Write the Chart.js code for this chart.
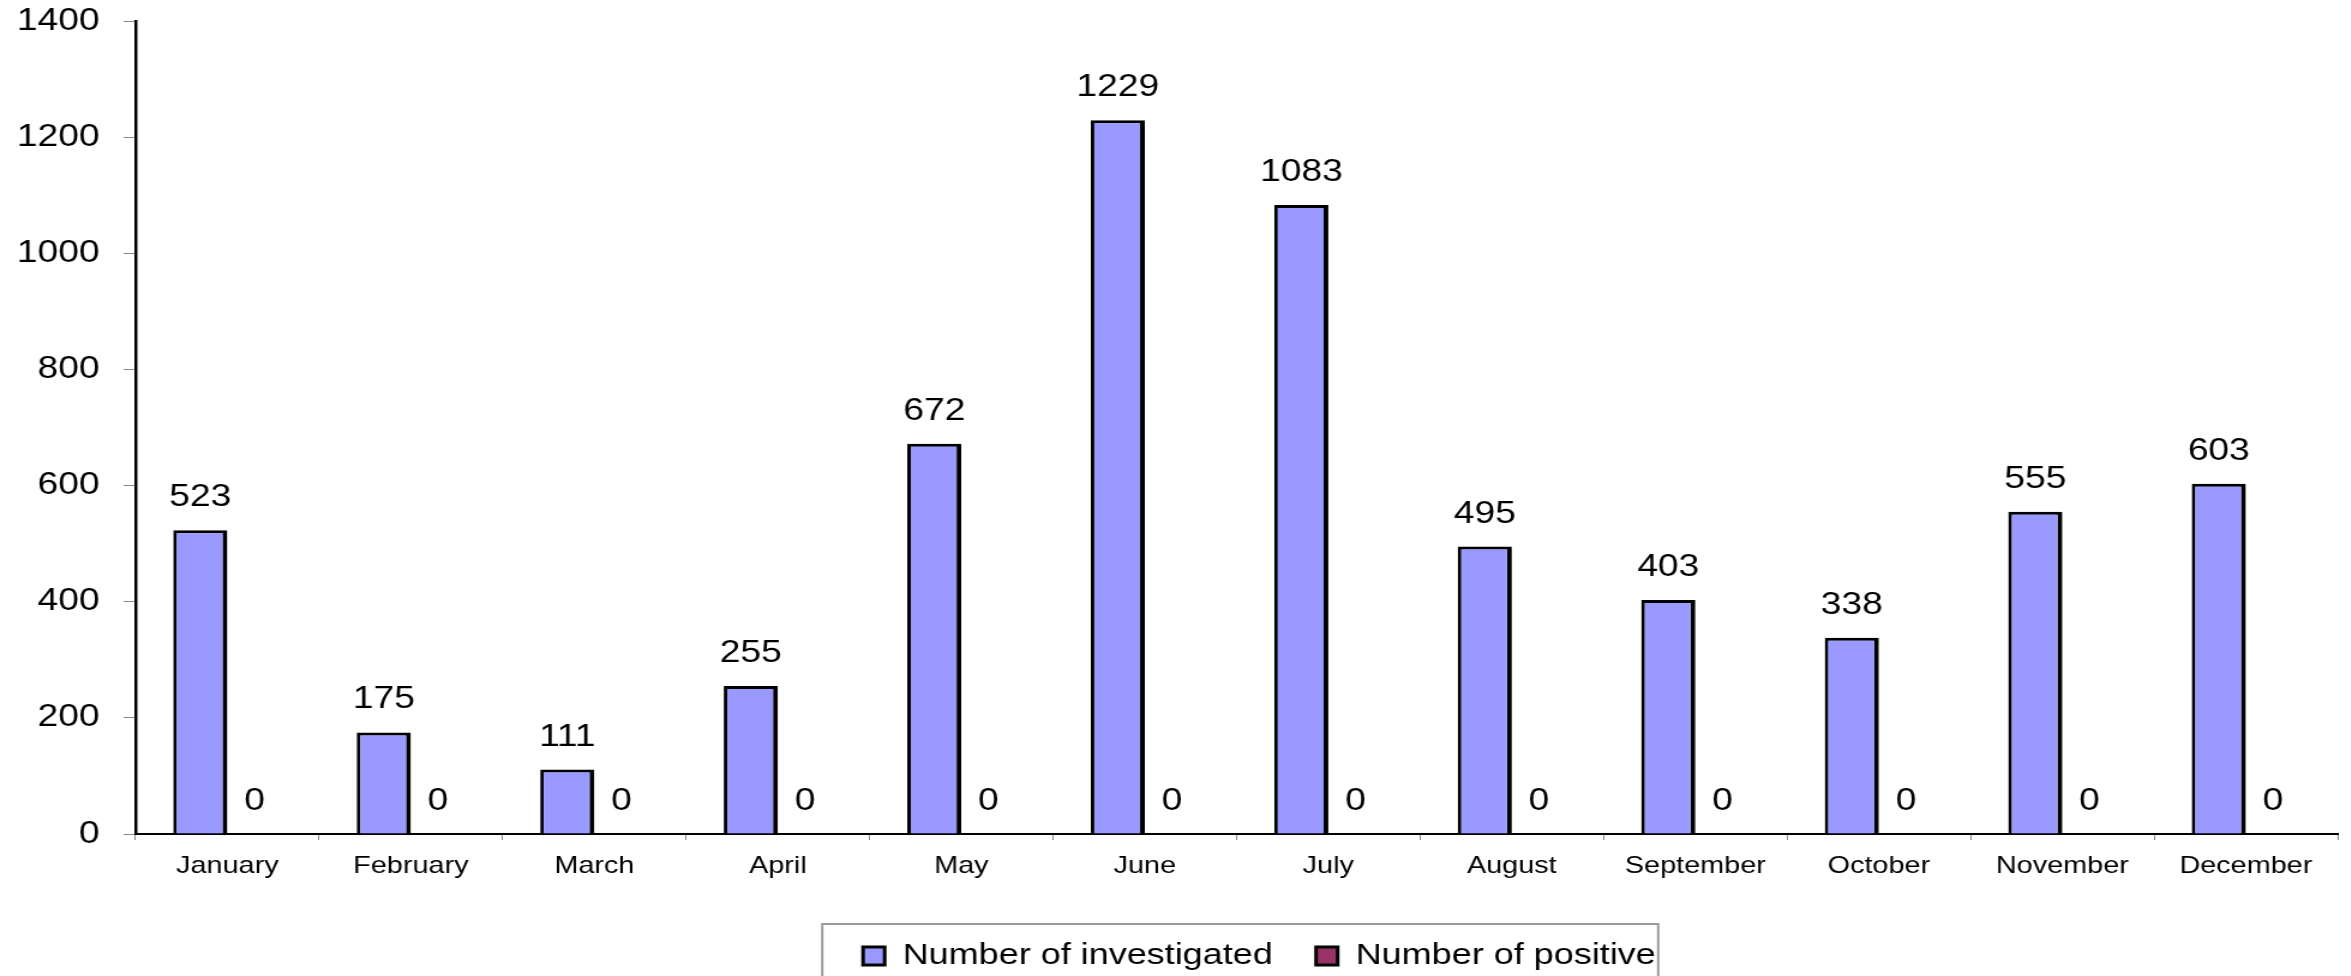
<!DOCTYPE html>
<html>
<head>
<meta charset="utf-8">
<script src="https://cdn.jsdelivr.net/npm/chart.js@4.4.0/dist/chart.umd.min.js"></script>
<style>
  html, body { margin: 0; padding: 0; background: #fff; overflow: hidden; }
  /* the reference text is wide, so the whole drawing is stretched a little sideways */
  #wrap { width: 1959px; height: 976px; transform: scaleX(1.2); transform-origin: 0 0; }
</style>
</head>
<body>
<div id="wrap"><canvas id="myChart"></canvas></div>
<script>
'use strict'

const months = ['January', 'February', 'March', 'April', 'May', 'June',
  'July', 'August', 'September', 'October', 'November', 'December'];
const investigated = [523, 175, 111, 255, 672, 1229, 1083, 495, 403, 338, 555, 603];
const positive = [0, 0, 0, 0, 0, 0, 0, 0, 0, 0, 0, 0];
const yTicks = [0, 200, 400, 600, 800, 1000, 1200, 1400];

const fontFamily = '"Liberation Sans", Arial, sans-serif';

// numbers written above every bar
const valueLabels = {
  id: 'valueLabels',
  afterDatasetsDraw(chart) {
    let ctx = chart.ctx;
    ctx.save();
    ctx.font = '31px ' + fontFamily;
    ctx.fillStyle = '#000';
    ctx.textAlign = 'center';
    ctx.textBaseline = 'alphabetic';
    chart.data.datasets.forEach((ds, i) => {
      chart.getDatasetMeta(i).data.forEach((bar, j) => {
        ctx.fillText(ds.data[j], bar.x, bar.y - 24);
      });
    });
    ctx.restore();
  }
};

// legend sits a bit right of centre in the reference, with a grey frame open at the bottom
const legendFrame = {
  id: 'legendFrame',
  afterLayout(chart) {
    let lg = chart.legend;
    if (!lg) return;
    lg.left += 19;
    lg.right += 19;
    lg.top += 5;
    lg.bottom += 5;
  },
  afterDraw(chart) {
    let boxes = chart.legend && chart.legend.legendHitBoxes;
    if (!boxes || !boxes.length) return;
    let left = boxes[0].left;
    let last = boxes[boxes.length - 1];
    let right = last.left + last.width;
    let midY = boxes[0].top + boxes[0].height / 2;
    let ctx = chart.ctx;
    ctx.save();
    ctx.strokeStyle = '#9a9a9a';
    ctx.lineWidth = 2;
    ctx.strokeRect(left - 34, midY - 32, right - left + 36, 120);
    ctx.restore();
  }
};

let ctx = document.getElementById('myChart');
const myChart = new Chart(ctx, {
  type: 'bar',
  data: {
    labels: months,
    datasets: [{
      label: 'Number of investigated',
      data: investigated,
      backgroundColor: '#9999ff',
      borderColor: '#000',
      borderWidth: { top: 3, left: 3, right: 4, bottom: 0 },
      borderSkipped: false
    }, {
      label: 'Number of positive',
      data: positive,
      backgroundColor: '#993366',
      borderColor: '#000',
      borderWidth: 3
    }]
  },
  options: {
    responsive: true,
    maintainAspectRatio: false,
    animation: false,
    categoryPercentage: 0.59,
    barPercentage: 1,
    layout: { padding: { top: 21, right: 11, left: 0, bottom: 0 } },
    plugins: {
      tooltip: { enabled: false },
      legend: {
        position: 'bottom',
        fullSize: false,
        labels: {
          font: { family: fontFamily, size: 30 },
          color: '#000',
          boxWidth: 18,
          boxHeight: 18,
          padding: 36,
          generateLabels(chart) {
            return chart.data.datasets.map((ds, i) => ({
              text: ds.label,
              fillStyle: ds.backgroundColor,
              strokeStyle: '#000',
              lineWidth: 3,
              datasetIndex: i
            }));
          }
        }
      }
    },
    scales: {
      x: {
        grid: { drawOnChartArea: false, tickLength: 6, color: '#888', offset: true },
        border: { color: '#000', width: 2 },
        ticks: { font: { family: fontFamily, size: 24 }, color: '#000', padding: 12, maxRotation: 0, autoSkip: false },
        afterFit(scale) { scale.height = 66; }
      },
      y: {
        min: 0,
        max: 1400,
        grid: { drawOnChartArea: false, tickLength: 10, color: '#888' },
        border: { color: '#000', width: 2.5 },
        ticks: {
          font: { family: fontFamily, size: 31 },
          color: '#000',
          padding: 20,
          callback: v => String(v)
        },
        afterBuildTicks(scale) { scale.ticks = yTicks.map(v => ({ value: v })); },
        afterFit(scale) {
          scale.width = 113;
          scale.paddingTop = 0;
          scale.paddingBottom = 0;
        }
      }
    }
  },
  plugins: [valueLabels, legendFrame]
});
</script>
</body>
</html>
